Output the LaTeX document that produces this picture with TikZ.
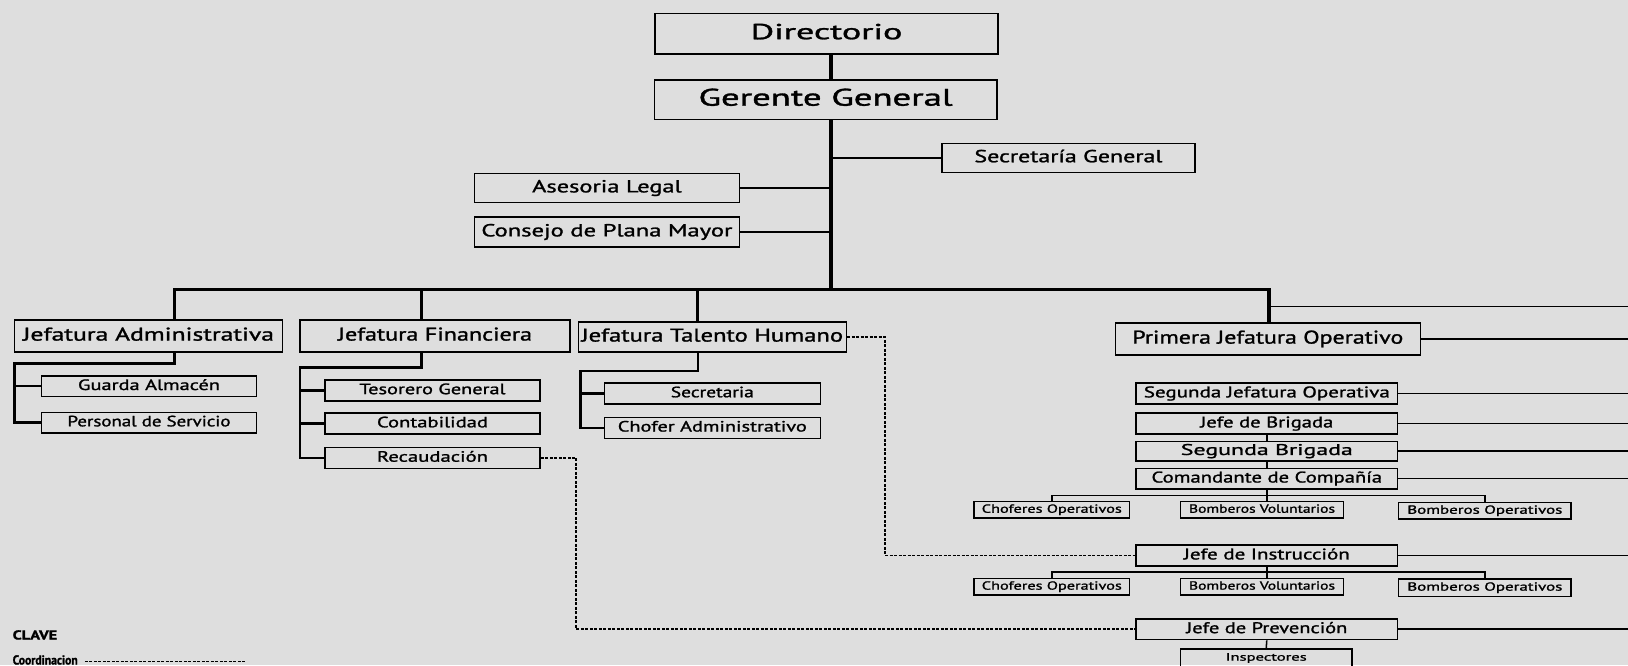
\documentclass[tikz,border=0pt]{standalone}
\usepackage{fontspec}
\setmainfont{PT Sans}[FakeBold=1.2]
\usepackage{graphicx}
\definecolor{bg}{RGB}{222,222,222}
% #1 target width, #2 font size, #3 text
\newcommand{\tw}[3]{\resizebox{#1pt}{\height}{\fontsize{#2pt}{#2pt}\selectfont\vphantom{Jg}#3}}
\tikzset{
  box/.style={draw=black, line width=1.5pt, inner sep=0pt, anchor=center},
  trunkline/.style={line width=3.5pt},
  subline/.style={line width=2.4pt},
  thinline/.style={line width=1.5pt},
  dshline/.style={line width=1.8pt, dash pattern=on 3pt off 1.5pt},
}
\begin{document}
\begin{tikzpicture}[x=1pt,y=-1pt]
\clip (0,0) rectangle (1628,665);
\fill[bg] (0,0) rectangle (1628,665);
% coordinates
\coordinate (tk) at (831,0);
\coordinate (edge) at (1640,0);
\coordinate (b1) at (174.4,289.7);
\coordinate (b2) at (421.5,289.7);
\coordinate (b3) at (697.7,289.7);
\coordinate (b4) at (1268.8,289.7);
\coordinate (re) at (1640,306.3);
\coordinate (a1) at (174.4,363.4);
\coordinate (a2) at (14.5,363.4);
\coordinate (f1) at (421.5,367.6);
\coordinate (f2) at (300,367.6);
\coordinate (t1) at (697.7,370.7);
\coordinate (t2) at (580.4,370.7);
\coordinate (d1) at (884.6,0);
\coordinate (d2) at (576.3,0);
\coordinate (r1) at (0,495.3);
\coordinate (r2) at (0,572.1);
% top
\node[box, minimum width=342.6pt, minimum height=40.5pt] (dir) at (826.5,33.8) {\tw{151.6}{21.8}{Directorio}};
\node[box, minimum width=342.6pt, minimum height=39.5pt] (ger) at (825.6,99.7) {\tw{254}{24}{Gerente General}};
\node[box, minimum width=253.3pt, minimum height=29pt] (sec) at (1068.4,157.8) {\tw{188}{17.5}{Secretaría General}};
\node[box, minimum width=264.8pt, minimum height=29pt] (ase) at (606.9,188) {\tw{149.5}{17.5}{Asesoria Legal}};
\node[box, minimum width=264.8pt, minimum height=30pt] (con) at (606.9,232) {\tw{251}{17.5}{Consejo de Plana Mayor}};
% level 1
\node[box, minimum width=268pt, minimum height=32pt] (adm) at (148.5,336) {\tw{251}{18.5}{Jefatura Administrativa}};
\node[box, minimum width=270pt, minimum height=32pt] (fin) at (435,336) {\tw{194}{18.5}{Jefatura Financiera}};
\node[box, minimum width=268pt, minimum height=30pt] (th) at (712.3,337) {\tw{261.6}{18.5}{Jefatura Talento Humano}};
\node[box, minimum width=305pt, minimum height=32pt] (prim) at (1267.8,339) {\tw{271}{18.5}{Primera Jefatura Operativo}};
% adm subs
\node[box, minimum width=215pt, minimum height=20.7pt] (gua) at (149,386.2) {\tw{142}{15}{Guarda Almacén}};
\node[box, minimum width=215pt, minimum height=20.7pt] (pers) at (149,422.6) {\tw{163}{15}{Personal de Servicio}};
% fin subs
\node[box, minimum width=215pt, minimum height=20.8pt] (tes) at (432.5,390.4) {\tw{146}{15}{Tesorero General}};
\node[box, minimum width=215pt, minimum height=20.8pt] (cont) at (432.5,423.6) {\tw{111}{15}{Contabilidad}};
\node[box, minimum width=215pt, minimum height=20.8pt] (rec) at (432.5,457.9) {\tw{111}{15}{Recaudación}};
% th subs
\node[box, minimum width=216pt, minimum height=21pt] (secr) at (712.3,393.5) {\tw{83}{15}{Secretaria}};
\node[box, minimum width=216pt, minimum height=21pt] (chad) at (712.3,427.8) {\tw{189}{15}{Chofer Administrativo}};
% operative column
\node[box, minimum width=261.7pt, minimum height=20.8pt] (sjo) at (1266.8,393.5) {\tw{246}{15.5}{Segunda Jefatura Operativa}};
\node[box, minimum width=261.7pt, minimum height=20.8pt] (jb) at (1266.8,423.6) {\tw{133}{15.5}{Jefe de Brigada}};
\node[box, minimum width=261.7pt, minimum height=19.7pt] (sb) at (1266.8,451.1) {\tw{172}{15.5}{Segunda Brigada}};
\node[box, minimum width=261.7pt, minimum height=20.7pt] (cc) at (1266.8,478.6) {\tw{230.5}{15.5}{Comandante de Compañía}};
\node[box, minimum width=155.7pt, minimum height=16.6pt] (ch1) at (1051.8,509.8) {\tw{140}{11.8}{Choferes Operativos}};
\node[box, minimum width=163pt, minimum height=16.6pt] (bv1) at (1262,509.8) {\tw{146}{11.8}{Bomberos Voluntarios}};
\node[box, minimum width=172.4pt, minimum height=16.6pt] (bo1) at (1484.8,510.8) {\tw{155}{11.8}{Bomberos Operativos}};
\node[box, minimum width=261.7pt, minimum height=20.8pt] (ins) at (1266.8,555.5) {\tw{166}{15.5}{Jefe de Instrucción}};
\node[box, minimum width=155.7pt, minimum height=16.6pt] (ch2) at (1051.8,586.7) {\tw{140}{11.8}{Choferes Operativos}};
\node[box, minimum width=163pt, minimum height=16.6pt] (bv2) at (1262,586.7) {\tw{146}{11.8}{Bomberos Voluntarios}};
\node[box, minimum width=172.4pt, minimum height=17.6pt] (bo2) at (1484.8,587.7) {\tw{155}{11.8}{Bomberos Operativos}};
\node[box, minimum width=261.7pt, minimum height=20.8pt] (prev) at (1266.8,629.2) {\tw{161}{15.5}{Jefe de Prevención}};
\node[box, minimum width=171.4pt, minimum height=18pt] (insp) at (1266.2,658) {\tw{81}{10.8}{Inspectores}};
% legend
\node[inner sep=0pt, anchor=base west] (clave) at (12.5,639.5) {\resizebox{44.5pt}{\height}{\fontsize{13}{13}\selectfont\bfseries CLAVE}};
\node[inner sep=0pt, anchor=base west] (coord) at (12.5,664.5) {\resizebox{65pt}{\height}{\fontsize{13}{13}\selectfont\bfseries Coordinacion}};
\draw[dshline, line width=1.5pt] ([xshift=7pt]coord.base east) ++(0,-3) -- ++(162,0);
% trunk and bus
\draw[trunkline] (dir.south -| tk) -- (ger.north -| tk);
\draw[trunkline] (ger.south -| tk) -- (tk |- b1);
\draw[trunkline] (adm.north -| b1) -- (b1) -- (b4) -- (prim.north -| b4);
\draw[trunkline] (fin.north -| b2) -- (b2);
\draw[trunkline] (th.north -| b3) -- (b3);
% staff
\draw[thinline] (sec.west) -- (sec.west -| tk);
\draw[thinline] (ase.east) -- (ase.east -| tk);
\draw[thinline] (con.east) -- (con.east -| tk);
% right lines
\draw[thinline] (b4 |- re) -- (re);
\draw[thinline] (prim.east) -- (prim.east -| edge);
\draw[thinline] (sjo.east) -- (sjo.east -| edge);
\draw[thinline] (jb.east) -- (jb.east -| edge);
\draw[thinline] (sb.east) -- (sb.east -| edge);
\draw[thinline] (cc.east) -- (cc.east -| edge);
\draw[thinline] (ins.east) -- (ins.east -| edge);
\draw[thinline] (prev.east) -- (prev.east -| edge);
% sub connectors
\draw[subline] (adm.south -| a1) -- (a1) -- (a2) -- (a2 |- pers.west) -- (pers.west);
\draw[subline] (a2 |- gua.west) -- (gua.west);
\draw[subline] (fin.south -| f1) -- (f1) -- (f2) -- (f2 |- rec.west) -- (rec.west);
\draw[subline] (f2 |- tes.west) -- (tes.west);
\draw[subline] (f2 |- cont.west) -- (cont.west);
\draw[subline] (th.south -| t1) -- (t1) -- (t2) -- (t2 |- chad.west) -- (chad.west);
\draw[subline] (t2 |- secr.west) -- (secr.west);
% operative connectors
\draw[thinline] (jb.south) -- (sb.north);
\draw[thinline] (sb.south) -- (cc.north);
\draw[thinline] (cc.south) -- (cc.south |- bv1.north);
\draw[thinline] (ch1.north) -- (ch1.north |- r1) -- (bo1.north |- r1) -- (bo1.north);
\draw[thinline] (ins.south) -- (ins.south |- bv2.north);
\draw[thinline] (ch2.north) -- (ch2.north |- r2) -- (bo2.north |- r2) -- (bo2.north);
\draw[thinline] (prev.south) -- (insp.north);
% dashed
\draw[dshline] (th.east) -- (th.east -| d1) -- (d1 |- ins.west) -- (ins.west);
\draw[dshline] (rec.east) -- (rec.east -| d2) -- (d2 |- prev.west) -- (prev.west);
\end{tikzpicture}
\end{document}
